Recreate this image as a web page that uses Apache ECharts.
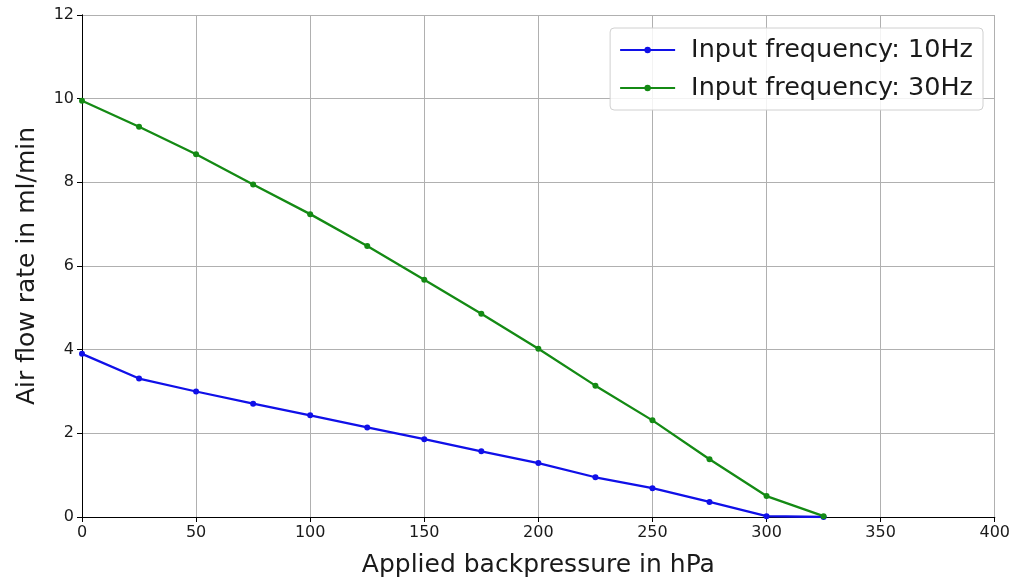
<!DOCTYPE html>
<html><head><meta charset="utf-8">
<script src="https://cdn.jsdelivr.net/npm/echarts@6/dist/echarts.min.js"></script>
<style>html,body{margin:0;padding:0;background:#fff}#c{width:1013px;height:583px}</style>
</head><body><div id="c"></div>
<script>
const pressure = [0,25,50,75,100,125,150,175,200,225,250,275,300,325];
const flow10Hz = [3.90,3.31,3.00,2.71,2.43,2.14,1.86,1.57,1.29,0.95,0.69,0.36,0.02,0.0];
const flow30Hz = [9.95,9.33,8.67,7.95,7.24,6.48,5.67,4.86,4.02,3.14,2.31,1.38,0.50,0.02];
const seriesNames = ['Input frequency: 10Hz','Input frequency: 30Hz'];
const xTitle = 'Applied backpressure in hPa';
const yTitle = 'Air flow rate in ml/min';

const font = 'DejaVu Sans';
const chart = echarts.init(document.getElementById('c'));
const pair = a => pressure.map((x,i)=>[x,a[i]]);
const axisCommon = {
  axisLine:{show:true,onZero:false,lineStyle:{color:'#000',width:1}},
  axisTick:{show:true,length:5,inside:false,lineStyle:{color:'#000'}},
  axisLabel:{color:'#1a1a1a',fontFamily:font,fontSize:16},
  splitLine:{show:true,lineStyle:{color:'#b0b0b0',width:1}}
};
chart.setOption({
  animation:false,
  backgroundColor:'#fff',
  grid:{left:82,right:18,top:15,bottom:65,containLabel:false},
  xAxis:[Object.assign({},axisCommon,{type:'value',min:0,max:400,interval:50,
    name:xTitle,nameLocation:'middle',nameGap:36,
    nameTextStyle:{fontFamily:font,fontSize:25,color:'#1a1a1a'}}),
    {type:'value',position:'top',min:0,max:400,axisLine:{show:true,lineStyle:{color:'#000'}},axisTick:{show:false},axisLabel:{show:false},splitLine:{show:false}}],
  yAxis:[Object.assign({},axisCommon,{type:'value',min:0,max:12,interval:2,
    name:yTitle,nameLocation:'middle',nameGap:42,
    nameTextStyle:{fontFamily:font,fontSize:25,color:'#1a1a1a'}}),
    {type:'value',position:'right',min:0,max:12,axisLine:{show:true,lineStyle:{color:'#000'}},axisTick:{show:false},axisLabel:{show:false},splitLine:{show:false}}],
  legend:{
    right:30,top:28,orient:'vertical',
    backgroundColor:'rgba(255,255,255,0.85)',
    borderColor:'#d0d0d0',borderWidth:1,borderRadius:4,
    padding:[9,10,9,9],itemGap:12,itemWidth:55,itemHeight:8,
    textStyle:{fontFamily:font,fontSize:25.5,color:'#1a1a1a',padding:[0,0,0,11]},
    data:seriesNames
  },
  series:[
    {name:seriesNames[0],type:'line',data:pair(flow10Hz),color:'#1010e8',
     symbol:'circle',symbolSize:6,showSymbol:true,lineStyle:{width:2.3,color:'#1010e8'},itemStyle:{color:'#1010e8'}},
    {name:seriesNames[1],type:'line',data:pair(flow30Hz),color:'#148a14',
     symbol:'circle',symbolSize:6,showSymbol:true,lineStyle:{width:2.3,color:'#148a14'},itemStyle:{color:'#148a14'}}
  ]
});
</script></body></html>
